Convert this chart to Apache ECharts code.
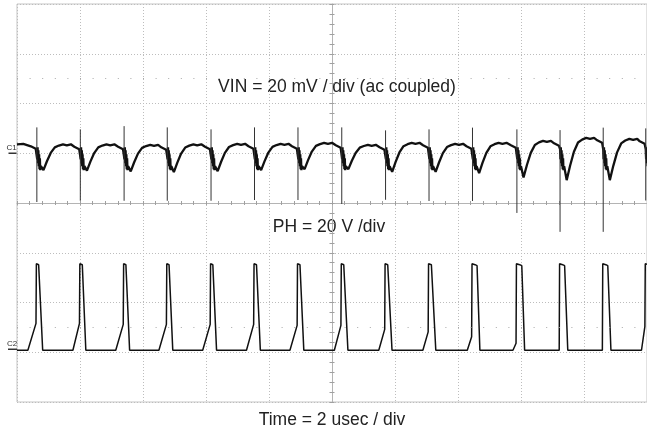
<!DOCTYPE html>
<html><head><meta charset="utf-8">
<script src="https://cdn.jsdelivr.net/npm/echarts@6/dist/echarts.min.js"></script>
<style>html,body{margin:0;padding:0;background:#fff}#c{width:647px;height:434px}</style>
</head><body><div id="c"></div>
<script>
// ---- data ----
// switching edges (µs), one per cycle
const spikeTimes = [0.63, 2.01, 3.40, 4.77, 6.16, 7.54, 8.92, 10.31, 11.70, 13.08, 14.46, 15.87, 17.24, 18.61, 19.96];
// VIN (mV, ac coupled): spike extremes per edge
const spikeHigh = [10.4, 9.6, 10.9, 10.4, 9.6, 10.4, 10.4, 10.4, 9.2, 9.6, 10.3, 9.6, 9.3, 10.3, 10.0];
const spikeLow = [-19.6, -19.1, -19.1, -19.1, -19.1, -18.8, -18.8, -20.4, -18.7, -19.2, -19.2, -24.0, -31.6, -31.6, -19.0];
// VIN flat level: before first edge, then after each edge
const vinTop = [3.6, 3.4, 3.4, 3.2, 3.4, 3.6, 3.6, 4.0, 3.2, 4.0, 3.6, 4.0, 4.8, 6.0, 5.6, 5.6];
// VIN minimum after each edge
const vinDip = [-6.8, -7.0, -7.3, -7.6, -7.2, -6.8, -6.4, -6.4, -7.5, -7.5, -8.0, -9.7, -10.8, -10.8, -10.8];
// ringing just after an edge (µs after edge, mV)
const ringT = [0, 0.012, 0.024, 0.036, 0.048, 0.06, 0.072, 0.084, 0.096, 0.108, 0.13];
const ringV = [1.6, -2.4, 2.4, -4.0, 1.2, -5.2, -0.4, -6.4, -2.0, -6.8, -5.2];
// recovery from dip to flat (µs after edge, fraction of the way)
const riseT = [0.32, 0.44, 0.57, 0.70];
const riseFrac = [0.35, 0.68, 0.9, 0.97];
const dipT = 0.21;

// PH (V): switch node pulses
const phLow = -0.4;
const phHigh = 34.0;
const phRampLen = [0.27, 0.22, 0.25, 0.25, 0.25, 0.24, 0.24, 0.22, 0.20, 0.18, 0.15, 0.11, 0, 0, 0.12];
const phRampTop = [10.4, 10.4, 10.0, 10.0, 10.0, 10.0, 9.6, 9.6, 8.0, 7.0, 5.0, 2.4, 0, 0, 9.2];
const phTopW = [0.12, 0.13, 0.12, 0.12, 0.12, 0.13, 0.13, 0.13, 0.14, 0.15, 0.16, 0.17, 0.16, 0.16, 0.16];
const phFallW = [0.08, 0.06, 0.07, 0.07, 0.07, 0.07, 0.07, 0.08, 0.08, 0.08, 0.09, 0.09, 0.10, 0.10, 0.10];

// graticule reference dot rows (VIN mV)
const refLevels = [30, -70];

// ---- build series ----
const vinBody = [[0, vinTop[0]], [0.2, vinTop[0] + 0.2]];
const vinSpikes = [];
spikeTimes.forEach((s, k) => {
  const prev = vinTop[k], top = vinTop[k + 1], dip = vinDip[k];
  vinBody.push([s - 0.19, prev - 0.8], [s - 0.035, prev - 1.8]);
  ringT.forEach((t, i) => vinBody.push([s + t, ringV[i]]));
  vinBody.push([s + dipT, dip]);
  riseT.forEach((t, i) => vinBody.push([s + t, dip + riseFrac[i] * (top - dip)]));
  vinBody.push([s + 0.83, top + 0.2], [s + 0.95, top - 0.2], [s + 1.08, top + 0.2]);
  vinSpikes.push([s, spikeHigh[k]], [s, spikeLow[k]], [s, '-']);
});
const phBody = [[0, phLow]];
spikeTimes.forEach((t0, k) => {
  const s = t0 - 0.015;
  if (phRampLen[k] > 0) {
    phBody.push([s - phRampLen[k], phLow], [s - 0.012, phRampTop[k]]);
  } else {
    phBody.push([s - 0.012, phLow]);
  }
  phBody.push([s, phHigh + 0.4], [s + 0.03, phHigh + 0.8], [s + phTopW[k] * 0.6, phHigh],
    [s + phTopW[k], phHigh - 0.4], [s + phTopW[k] + phFallW[k], phLow]);
});

const FONT = '"Liberation Sans", Arial, Helvetica, sans-serif';
const gridDot = { color: '#bdbdbd', type: [1, 2], width: 1 };
const centerLine = { color: '#b4b4b4', width: 1 };

const chart = echarts.init(document.getElementById('c'), null, { renderer: 'canvas' });
chart.setOption({
  animation: false,
  backgroundColor: '#fff',
  grid: { left: 17, top: 4, width: 630, height: 400, show: true, borderColor: '#c4c4c4', borderWidth: 1, backgroundColor: 'transparent' },
  xAxis: [
    { type: 'value', min: 0, max: 20, interval: 2,
      axisLine: { show: false }, axisTick: { show: false }, axisLabel: { show: false },
      splitLine: { show: true, lineStyle: gridDot },
      name: 'Time = 2 usec / div', nameLocation: 'middle', nameGap: 9,
      nameTextStyle: { fontSize: 17.5, color: '#222', fontFamily: FONT } },
    { type: 'value', min: -5, max: 5, interval: 0.2,
      axisLine: { show: true, onZero: true, onZeroAxisIndex: 2, lineStyle: centerLine },
      axisTick: { show: true, length: 2, lineStyle: { color: '#a0a0a0' } },
      axisLabel: { show: false }, splitLine: { show: false } },
    { type: 'value', min: -5, max: 5, interval: 0.2,
      axisLine: { show: false, onZero: true, onZeroAxisIndex: 2 },
      axisTick: { show: true, inside: true, length: 2, lineStyle: { color: '#a0a0a0' } },
      axisLabel: { show: false }, splitLine: { show: false } }
  ],
  yAxis: [
    { type: 'value', min: -100, max: 60, interval: 20,
      axisLine: { show: false }, axisTick: { show: false }, axisLabel: { show: false },
      splitLine: { show: true, lineStyle: gridDot } },
    { type: 'value', min: -21.2, max: 138.8, show: false },
    { type: 'value', min: -4, max: 4, interval: 0.2,
      axisLine: { show: true, onZero: true, onZeroAxisIndex: 1, lineStyle: centerLine },
      axisTick: { show: true, length: 2.5, lineStyle: { color: '#a0a0a0' } },
      axisLabel: { show: false }, splitLine: { show: false } },
    { type: 'value', min: -4, max: 4, interval: 0.2,
      axisLine: { show: false, onZero: true, onZeroAxisIndex: 1 },
      axisTick: { show: true, inside: true, length: 2.5, lineStyle: { color: '#a0a0a0' } },
      axisLabel: { show: false }, splitLine: { show: false } }
  ],
  graphic: [
    { type: 'text', x: 337, y: 87, style: { text: 'VIN = 20 mV / div (ac coupled)', fontSize: 17.5, fontFamily: FONT, fill: '#222', align: 'center', verticalAlign: 'middle' } },
    { type: 'text', x: 329, y: 227, style: { text: 'PH = 20 V /div', fontSize: 17.5, fontFamily: FONT, fill: '#222', align: 'center', verticalAlign: 'middle' } }
  ],
  series: [
    { type: 'line', name: 'ref', xAxisIndex: 0, yAxisIndex: 0, data: [], silent: true,
      markLine: { silent: true, symbol: 'none', label: { show: false },
        lineStyle: { color: '#a8a8a8', type: [1, 11.6], width: 1 },
        data: refLevels.map(v => ({ yAxis: v })) } },
    { type: 'line', name: 'VIN', xAxisIndex: 0, yAxisIndex: 0, data: vinBody, symbol: 'none',
      lineStyle: { color: '#111', width: 2.3 },
      markPoint: { silent: true, data: [{ coord: [0, 0], symbol: 'rect', symbolSize: [8, 1.5], symbolOffset: [-4.5, 0],
        itemStyle: { color: '#333' },
        label: { show: true, formatter: 'C1', position: [-2, -9], fontSize: 8, color: '#333', fontFamily: FONT } }] } },
    { type: 'line', name: 'VIN spikes', xAxisIndex: 0, yAxisIndex: 0, data: vinSpikes, symbol: 'none',
      connectNulls: false, lineStyle: { color: '#333', width: 1 } },
    { type: 'line', name: 'PH', xAxisIndex: 0, yAxisIndex: 1, data: phBody, symbol: 'none',
      lineStyle: { color: '#111', width: 1.5 },
      markPoint: { silent: true, data: [{ coord: [0, 0], symbol: 'rect', symbolSize: [9, 1.5], symbolOffset: [-4.5, 0],
        itemStyle: { color: '#333' },
        label: { show: true, formatter: 'C2', position: [-1, -9], fontSize: 8, color: '#333', fontFamily: FONT } }] } }
  ]
});
</script>
</body></html>
